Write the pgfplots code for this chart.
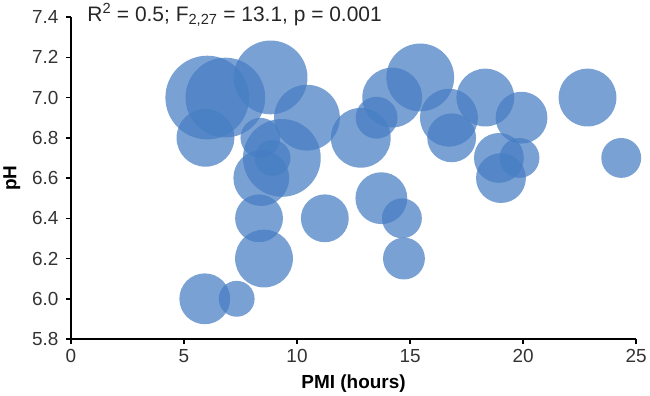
\documentclass[border=0pt]{standalone}
\usepackage{fontspec}
\setmainfont{Liberation Sans}
\usepackage{pgfplots}
\pgfplotsset{compat=1.18}
\definecolor{bubble}{RGB}{70,125,195}

% PMI (hours), pH, bubble radius (pt)
\pgfplotstableread{
x     y    r
6.03  7.0  42
6.83  7.0  40
8.83  7.1  37
10.44 6.9  33
5.95  6.8  29
8.38  6.8  20
9.33  6.7  39
8.92  6.7  18
8.42  6.6  28
8.32  6.4  24
8.54  6.2  29
11.23 6.4  24
5.92  6.0  25.5
7.33  6.0  18
12.82 6.8  30
14.21 7.0  30
13.52 6.9  21
15.45 7.1  34
16.72 6.9  29
16.84 6.8  24.5
18.33 7.0  29
19.93 6.9  26
18.93 6.7  25
19.84 6.7  20
19.02 6.6  25
13.73 6.5  26
14.64 6.4  20
14.73 6.2  21
22.85 7.0  29
24.34 6.7  20
}\bubbles

\begin{document}
\begin{tikzpicture}
\begin{axis}[
  width=567pt, height=323pt, scale only axis,
  xmin=0, xmax=25, ymin=5.8, ymax=7.4,
  xtick={0,5,10,15,20,25},
  ytick={5.8,6.0,6.2,6.4,6.6,6.8,7.0,7.2,7.4},
  axis x line*=bottom, axis y line*=left,
  axis line style={line width=1.6pt, -},
  tick align=outside, major tick length=5pt,
  tick style={line width=1.6pt, black},
  yticklabel style={xshift=-4pt, /pgf/number format/.cd, fixed, fixed zerofill, precision=1},
  xticklabel style={yshift=-2pt},
  /pgf/number format/assume math mode=true,
  ticklabel style={font=\fontsize{19}{22}\selectfont, text=black!80},
  xlabel={PMI (hours)}, ylabel={pH},
  label style={font=\fontsize{19}{22}\selectfont\bfseries},
  xlabel style={yshift=-5pt},
  ylabel style={yshift=5pt},
  clip=false,
]
\addplot[scatter, only marks, mark=*,
  scatter/use mapped color={draw=bubble, fill=bubble, draw opacity=0, fill opacity=0.72},
  visualization depends on={\thisrow{r} \as \rad},
  scatter/@pre marker code/.append style={/tikz/mark size=\rad pt}]
  table[x=x, y=y] {\bubbles};
\node[anchor=base west, font=\fontsize{21}{24}\selectfont, text=black!85]
  at (rel axis cs:0,1) [xshift=13pt, yshift=-4pt]
  {R\textsuperscript{2} = 0.5; F\textsubscript{2,27} = 13.1, p = 0.001};
\end{axis}
\end{tikzpicture}
\end{document}
